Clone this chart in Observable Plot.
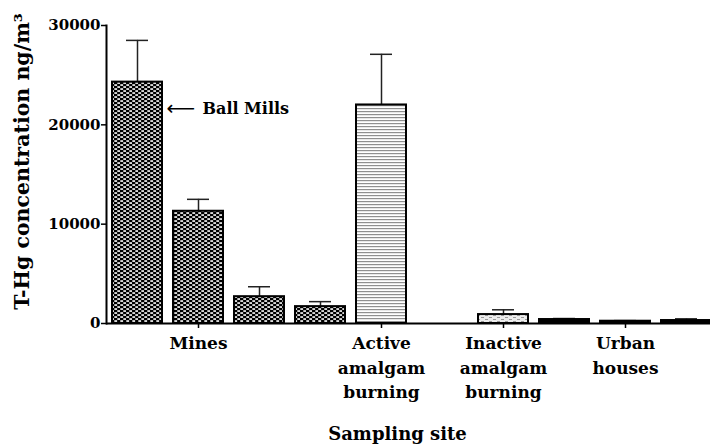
<!DOCTYPE html>
<html>
<head>
<meta charset="utf-8">
<script src="https://cdn.jsdelivr.net/npm/d3@7"></script>
<script src="https://cdn.jsdelivr.net/npm/@observablehq/plot@0.6"></script>
<style>
  html, body { margin: 0; padding: 0; background: #fff; }
  #chart { width: 710px; height: 446px; overflow: hidden; }
</style>
</head>
<body>
<div id="chart"></div>
<script>
// ---- data ----
const sites  = ["M1", "M2", "M3", "M4", "A", "I", "U1", "U2", "U3"];
const groups = ["Mines", "Mines", "Mines", "Mines", "Active", "Inactive", "Urban", "Urban", "Urban"];
const means  = [24300, 11300, 2700, 1700, 22000, 900, 400, 230, 300];
const errors = [4200, 1200, 1000, 500, 5100, 480, 100, 60, 170];

// x slots (one empty slot separates active and inactive burning)
const slots = ["M1", "M2", "M3", "M4", "A", " ", "I", "U1", "U2", "U3"];

const groupTicks  = ["M2", "A", "I", "U2"];
const groupLabels = ["Mines", "Active\namalgam\nburning", "Inactive\namalgam\nburning", "Urban\nhouses"];

const yTicks = [0, 10000, 20000, 30000];
const yTitle = "T-Hg concentration ng/m³";
const xTitle = "Sampling site";

const annotSite  = ["M1"];
const annotValue = [21650];
const annotLabel = ["Ball Mills"];

const groupNames = ["Mines", "Active", "Inactive", "Urban"];
const groupFills = ["url(#pMines)", "url(#pActive)", "url(#pInactive)", "#000"];

// ---- build ----
const data = sites.map((s, i) => ({site: s, group: groups[i], mean: means[i], top: means[i] + errors[i]}));
const annot = annotSite.map((s, i) => ({site: s, y: annotValue[i], label: annotLabel[i]}));

const barMarks = groupNames.map((g, gi) =>
  Plot.barY(data.filter(d => d.group === g), {
    x: "site", y: "mean", fill: groupFills[gi], stroke: "#000", strokeWidth: 2
  })
);

const chart = Plot.plot({
  width: 710,
  height: 446,
  marginLeft: 106,
  marginRight: 0,
  marginTop: 25,
  marginBottom: 123,
  style: {fontFamily: "'DejaVu Serif', serif", fontWeight: "bold", color: "#000", background: "#fff"},
  x: {type: "band", domain: slots, range: [112, 715.5], paddingInner: 0.187, paddingOuter: 0, align: 0},
  y: {domain: [0, 30000]},
  marks: [
    Plot.ruleX(data, {x: "site", y1: "mean", y2: "top", stroke: "#222", strokeWidth: 1.5}),
    Plot.tickY(data, {x: "site", y: "top", stroke: "#222", strokeWidth: 1.5, insetLeft: 14, insetRight: 14}),
    ...barMarks,
    Plot.ruleY([0], {stroke: "#000", strokeWidth: 2}),
    Plot.frame({anchor: "left", stroke: "#000", strokeWidth: 2}),
    Plot.axisY({ticks: yTicks, tickFormat: d3.format("d"), tickSize: 5, tickPadding: 1, fontSize: 15, label: null, strokeWidth: 1.5}),
    Plot.axisX({ticks: groupTicks, tickFormat: d => groupLabels[groupTicks.indexOf(d)], tickSize: 5, tickPadding: 3, fontSize: 17, lineHeight: 1.45, label: null, strokeWidth: 1.5}),
    Plot.text([yTitle], {text: d => d, frameAnchor: "left", textAnchor: "middle", lineAnchor: "middle", rotate: -90, dx: -84, dy: -13, fontSize: 20.5}),
    Plot.text([xTitle], {text: d => d, frameAnchor: "bottom", textAnchor: "middle", dx: -11, dy: 116, fontSize: 18}),
    Plot.text(annot, {x: "site", y: "y", text: () => "\u27F5", textAnchor: "start", dx: 29, fontSize: 20, fontFamily: "DejaVu Sans", fontWeight: "normal"}),
    Plot.text(annot, {x: "site", y: "y", text: "label", textAnchor: "start", dx: 65, fontSize: 16})
  ]
});

// patterns
const ns = "http://www.w3.org/2000/svg";
const defs = document.createElementNS(ns, "defs");
defs.innerHTML = `
  <pattern id="pMines" patternUnits="userSpaceOnUse" width="6" height="4">
    <rect width="6" height="4" fill="#000"/>
    <rect x="0.3" y="0.25" width="2.8" height="1.6" fill="#fff"/>
    <rect x="3.3" y="2.25" width="2.8" height="1.6" fill="#fff"/>
  </pattern>
  <pattern id="pActive" patternUnits="userSpaceOnUse" width="6" height="3">
    <rect width="6" height="3" fill="#fff"/>
    <rect y="0" width="6" height="1.2" fill="#909090"/>
  </pattern>
  <pattern id="pInactive" patternUnits="userSpaceOnUse" width="8" height="4">
    <rect width="8" height="4" fill="#ececec"/>
    <rect x="1" y="1" width="3" height="1" fill="#999"/>
    <rect x="5" y="3" width="3" height="1" fill="#999"/>
  </pattern>`;
chart.insertBefore(defs, chart.firstChild);
document.getElementById("chart").appendChild(chart);
</script>
</body>
</html>
